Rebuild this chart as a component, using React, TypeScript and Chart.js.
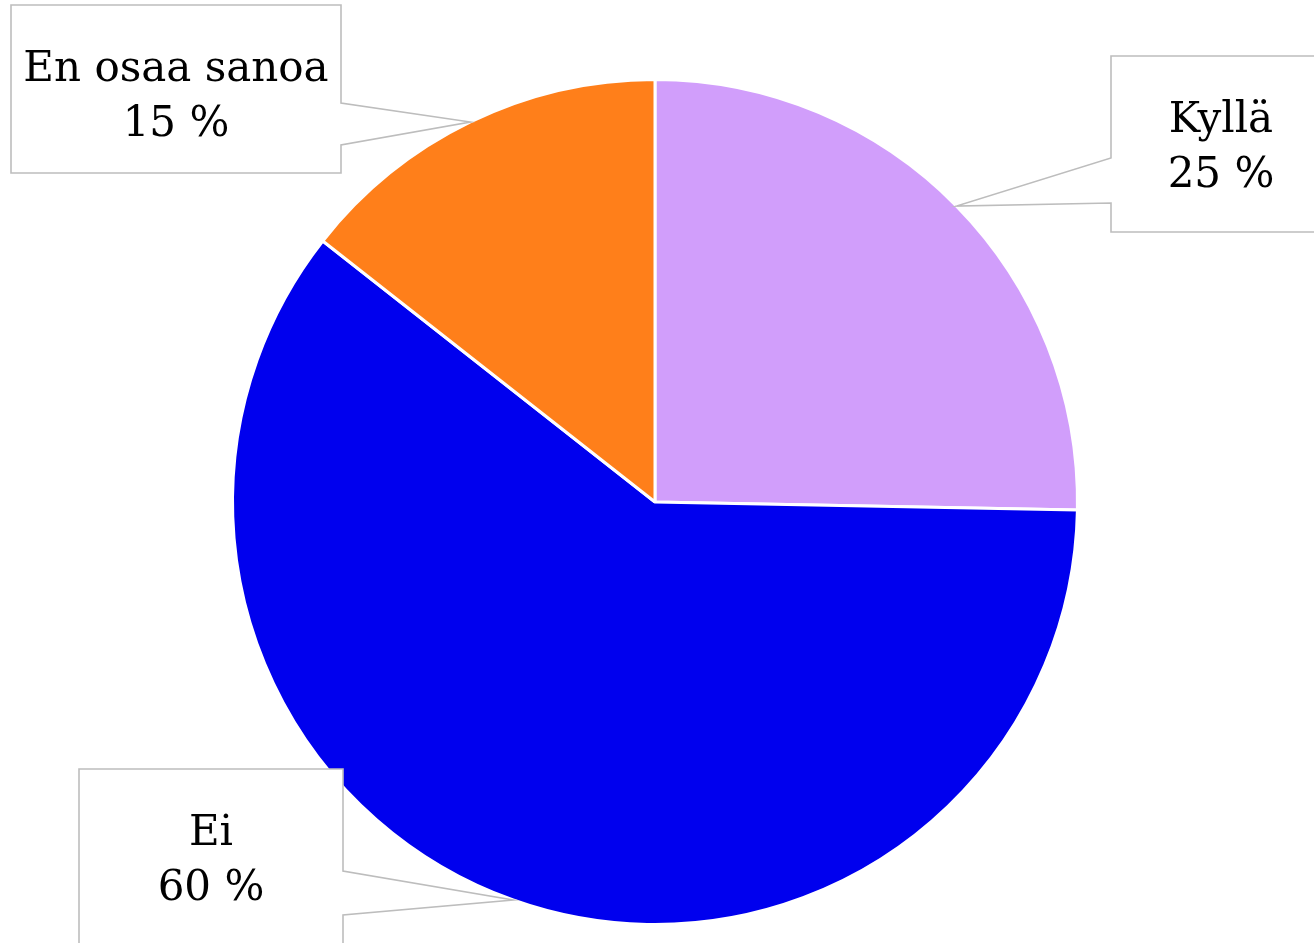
import React, { useEffect, useRef } from "react";
import { Chart, registerables } from "chart.js";

Chart.register(...registerables);

const categories = ["Kyllä", "Ei", "En osaa sanoa"];
const values = [25.3, 60.3, 14.4];
const percentLabels = ["25 %", "60 %", "15 %"];
const colors = ["#D19EFB", "#0000EE", "#FF7F1A"];

// callout boxes: x, y, w, h (layout only)
const boxes = [
  { x: 1111, y: 56, w: 220, h: 176 },
  { x: 79, y: 769, w: 264, h: 190 },
  { x: 11, y: 5, w: 330, h: 168 },
];
// wedge attachment y-positions on box edge (relative to box top)
const wedges = [
  { side: "left", y1: 102, y2: 147 },
  { side: "right", y1: 102, y2: 146 },
  { side: "right", y1: 98, y2: 140 },
];

const calloutPlugin = {
  id: "callouts",
  afterDatasetsDraw(chart: any) {
    const ctx = chart.ctx;
    const meta = chart.getDatasetMeta(0);
    meta.data.forEach((arc: any, i: number) => {
      const p = arc.getProps(["x", "y", "startAngle", "endAngle", "outerRadius"], true);
      const mid = (p.startAngle + p.endAngle) / 2;
      const tx = p.x + Math.cos(mid) * p.outerRadius;
      const ty = p.y + Math.sin(mid) * p.outerRadius;
      const b = boxes[i];
      const w = wedges[i];
      const ex = w.side === "left" ? b.x : b.x + b.w;
      ctx.save();
      ctx.lineWidth = 1.6;
      ctx.strokeStyle = "#BDBDBD";
      ctx.fillStyle = "#FFFFFF";
      ctx.beginPath();
      if (w.side === "left") {
        ctx.moveTo(b.x, b.y);
        ctx.lineTo(b.x + b.w, b.y);
        ctx.lineTo(b.x + b.w, b.y + b.h);
        ctx.lineTo(b.x, b.y + b.h);
        ctx.lineTo(b.x, b.y + w.y2);
        ctx.lineTo(tx, ty);
        ctx.lineTo(b.x, b.y + w.y1);
        ctx.closePath();
      } else {
        ctx.moveTo(b.x, b.y);
        ctx.lineTo(b.x + b.w, b.y);
        ctx.lineTo(ex, b.y + w.y1);
        ctx.lineTo(tx, ty);
        ctx.lineTo(ex, b.y + w.y2);
        ctx.lineTo(b.x + b.w, b.y + b.h);
        ctx.lineTo(b.x, b.y + b.h);
        ctx.closePath();
      }
      ctx.fill();
      ctx.stroke();
      ctx.fillStyle = "#000000";
      ctx.font = "42px 'DejaVu Serif'";
      ctx.textAlign = "center";
      ctx.textBaseline = "alphabetic";
      const cx = b.x + b.w / 2;
      ctx.fillText(categories[i], cx, b.y + 76);
      ctx.fillText(percentLabels[i], cx, b.y + 131);
      ctx.restore();
    });
  },
};

export default function App() {
  const ref = useRef<HTMLCanvasElement>(null);
  useEffect(() => {
    document.body.style.margin = "0";
    const chart = new Chart(ref.current!, {
      type: "pie",
      data: {
        labels: categories,
        datasets: [
          {
            data: values,
            backgroundColor: colors,
            borderColor: "#FFFFFF",
            borderWidth: 3,
            hoverOffset: 0,
          },
        ],
      },
      options: {
        responsive: false,
        animation: false,
        layout: { padding: { top: 78, bottom: 17, left: 231, right: 235 } },
        plugins: { legend: { display: false }, tooltip: { enabled: false } },
      },
      plugins: [calloutPlugin],
    });
    return () => chart.destroy();
  }, []);
  return (
    <div style={{ width: 1314, height: 943, background: "#fff" }}>
      <canvas ref={ref} width={1314} height={943} />
    </div>
  );
}
